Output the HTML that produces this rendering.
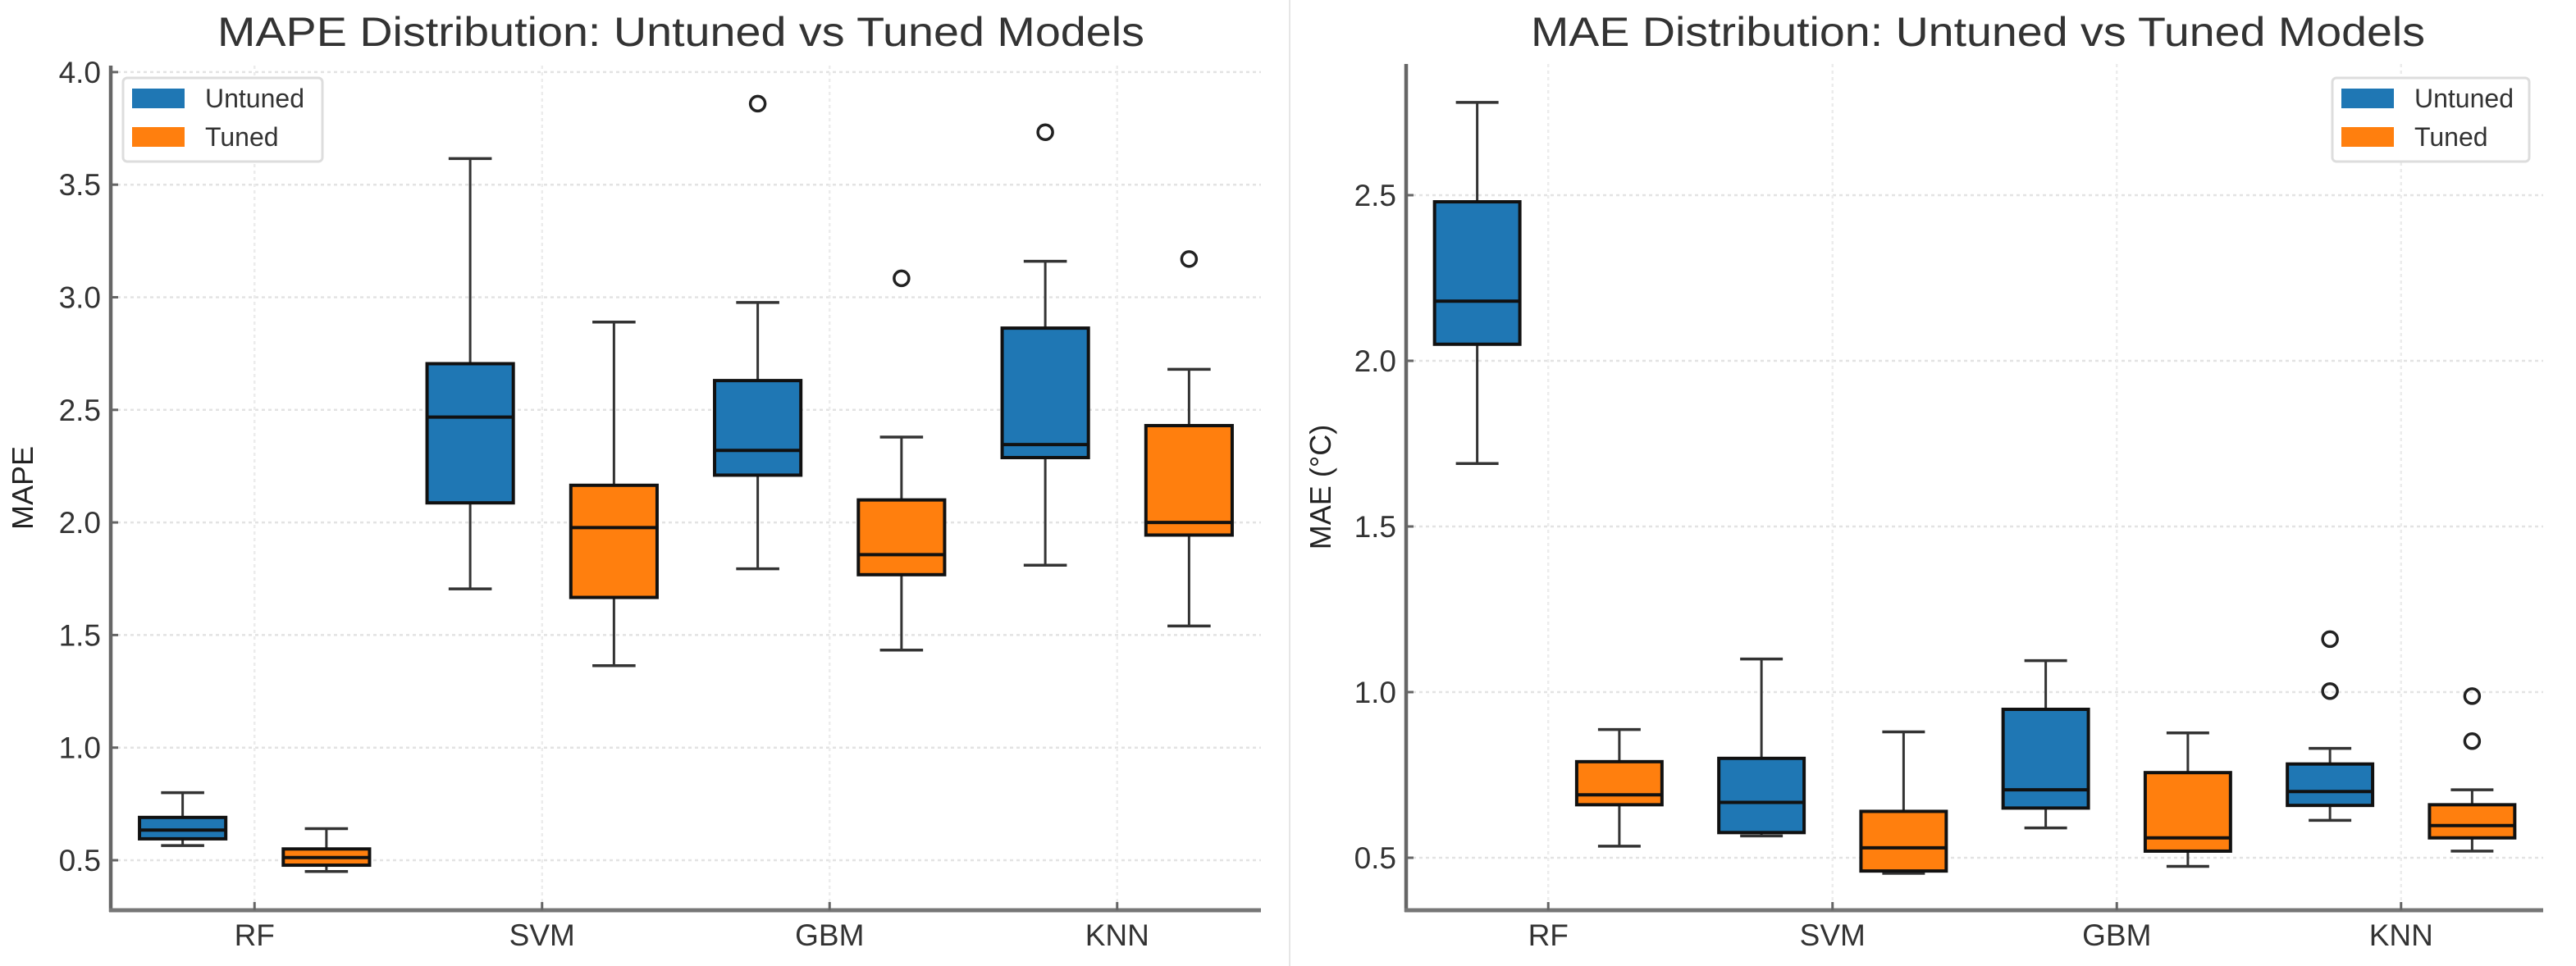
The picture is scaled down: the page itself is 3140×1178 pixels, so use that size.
<!DOCTYPE html>
<html><head><meta charset="utf-8"><style>
html,body{margin:0;padding:0;background:#fff;}
svg{display:block;font-family:"Liberation Sans","DejaVu Sans",sans-serif;}
</style></head><body>
<svg id="chart" width="3140" height="1178" viewBox="0 0 3140 1178" xmlns="http://www.w3.org/2000/svg">
<rect x="0" y="0" width="3140" height="1178" fill="#fff"/>
<line x1="1572" y1="0" x2="1572" y2="1178" stroke="#e6e6e6" stroke-width="2"/>
</svg>
<script>
const categories = ["RF","SVM","GBM","KNN"];
// MAPE panel: [lowWhisker, q1, median, q3, highWhisker]
const mapeUntuned = [[0.565,0.595,0.634,0.69,0.80],[1.705,2.087,2.468,2.705,3.616],[1.794,2.21,2.32,2.63,2.977],[1.81,2.288,2.346,2.863,3.16]];
const mapeTuned = [[0.45,0.478,0.512,0.55,0.64],[1.364,1.667,1.977,2.165,2.89],[1.433,1.768,1.857,2.10,2.379],[1.54,1.944,2.0,2.43,2.68]];
const mapeUntunedOutliers = [[],[],[3.86],[3.733]];
const mapeTunedOutliers = [[],[],[3.084],[3.17]];
const mapeTicks = [0.5,1.0,1.5,2.0,2.5,3.0,3.5,4.0];
// MAE panel
const maeUntuned = [[1.69,2.05,2.18,2.48,2.78],[0.566,0.576,0.667,0.80,1.10],[0.59,0.65,0.705,0.948,1.095],[0.613,0.658,0.70,0.783,0.83]];
const maeTuned = [[0.535,0.66,0.69,0.79,0.887],[0.453,0.46,0.53,0.64,0.88],[0.474,0.52,0.56,0.757,0.877],[0.52,0.56,0.597,0.66,0.705]];
const maeUntunedOutliers = [[],[],[],[1.16,1.003]];
const maeTunedOutliers = [[],[],[],[0.988,0.852]];
const maeTicks = [0.5,1.0,1.5,2.0,2.5];

const NS = "http://www.w3.org/2000/svg";
const svg = document.getElementById('chart');
function mk(tag, attrs, parent){
  const e = document.createElementNS(NS, tag);
  for (const k in attrs) e.setAttribute(k, attrs[k]);
  (parent||svg).appendChild(e);
  return e;
}
const BLUE = "#1f77b4", ORANGE = "#ff7f0e";

function drawPanel(p){
  const g = mk('g', {});
  
  
  const xS = v => p.x0 + (v - (-0.5)) / 4 * (p.x1 - p.x0);
  const yS = v => p.yRef + (p.vRef - v) * p.ppu;
  // grid
  p.ticks.forEach(t => {
    const gl = mk('line', {x1:p.x0, x2:p.x1, y1:yS(t), y2:yS(t), stroke:'#e3e3e3', 'stroke-width':2.5, 'stroke-dasharray':'4 4'}, g);
    
    
  });
  categories.forEach((c,i) => {
    const gl = mk('line', {x1:xS(i), x2:xS(i), y1:p.yTop, y2:p.yBot, stroke:'#ececec', 'stroke-width':2.5, 'stroke-dasharray':'4 4'}, g);
    
    
  });
  // boxes
  const step = (p.x1 - p.x0) / 4;
  const bw = step * 0.3, off = step * 0.25;
  const series = [[p.untuned, p.untunedOut, BLUE, -off, 'untuned'], [p.tuned, p.tunedOut, ORANGE, off, 'tuned']];
  series.forEach(([data, outs, col, o, sname]) => {
    data.forEach((d, i) => {
      const cx = xS(i) + o;
      const bg = mk('g', {}, g);
      
      
      mk('line', {x1:cx, x2:cx, y1:yS(d[0]), y2:yS(d[1]), stroke:'#333', 'stroke-width':3}, bg);
      mk('line', {x1:cx, x2:cx, y1:yS(d[3]), y2:yS(d[4]), stroke:'#333', 'stroke-width':3}, bg);
      mk('line', {x1:cx-bw/4, x2:cx+bw/4, y1:yS(d[0]), y2:yS(d[0]), stroke:'#333', 'stroke-width':3.5}, bg);
      mk('line', {x1:cx-bw/4, x2:cx+bw/4, y1:yS(d[4]), y2:yS(d[4]), stroke:'#333', 'stroke-width':3.5}, bg);
      mk('rect', {x:cx-bw/2, y:yS(d[3]), width:bw, height:Math.max(1, yS(d[1]) - yS(d[3])), fill:col, stroke:'#111', 'stroke-width':4}, bg);
      mk('line', {x1:cx-bw/2, x2:cx+bw/2, y1:yS(d[2]), y2:yS(d[2]), stroke:'#111', 'stroke-width':4}, bg);
      outs[i].forEach(v => {
        const c = mk('circle', {cx:cx, cy:yS(v), r:9, fill:'none', stroke:'#222', 'stroke-width':3.5}, g);
        
        
      });
    });
  });
  // spines
  const ys = mk('line', {x1:p.x0, x2:p.x0, y1:p.yTop, y2:p.yBot+2, stroke:'#666', 'stroke-width':4.5}, g);
  
  
  const xs = mk('line', {x1:p.x0-2, x2:p.x1, y1:p.yBot, y2:p.yBot, stroke:'#777', 'stroke-width':5}, g);
  
  
  // y ticks
  p.ticks.forEach(t => {
    mk('line', {x1:p.x0, x2:p.x0+9, y1:yS(t), y2:yS(t), stroke:'#666', 'stroke-width':3}, g);
    const tx = mk('text', {x:p.x0-12, y:yS(t)+13, 'text-anchor':'end', 'font-size':37, fill:'#333'}, g);
    tx.textContent = t.toFixed(1);
    
    
  });
  categories.forEach((c,i) => {
    mk('line', {x1:xS(i), x2:xS(i), y1:p.yBot, y2:p.yBot-10, stroke:'#666', 'stroke-width':3}, g);
    const tx = mk('text', {x:xS(i), y:p.yBot+43, 'text-anchor':'middle', 'font-size':37, fill:'#333'}, g);
    tx.textContent = c;
    
    
  });
  // title
  const ti = mk('text', {x:(p.x0+p.x1)/2 + p.tdx, y:56, 'text-anchor':'middle', 'font-size':50, fill:'#333', textLength:p.tlen, lengthAdjust:'spacingAndGlyphs'}, g);
  ti.textContent = p.title;
  
  
  // y label
  const yl = mk('text', {x:0, y:0, 'text-anchor':'middle', 'font-size':36, fill:'#222', transform:`translate(${p.ylx},${(p.yTop+p.yBot)/2}) rotate(-90)`}, g);
  yl.textContent = p.ylabel;
  
  
  // legend
  const lg = mk('g', {}, g);
  
  
  mk('rect', {x:p.lx, y:95, width:p.lw, height:102, rx:5, fill:'#fff', stroke:'#ddd', 'stroke-width':3}, lg);
  [['Untuned', BLUE, 108], ['Tuned', ORANGE, 155]].forEach(([lab, col, yy]) => {
    const e = mk('g', {}, lg);
    
    
    mk('rect', {x:p.lx+11, y:yy, width:64, height:24, fill:col}, e);
    const t = mk('text', {x:p.lx+100, y:yy+23, 'font-size':32, fill:'#333'}, e);
    t.textContent = lab;
  });
}

drawPanel({name:'mape-panel', x0:135, x1:1537, yTop:80, yBot:1110, vRef:0.5, yRef:1049, ppu:274.6,
  ticks:mapeTicks, untuned:mapeUntuned, tuned:mapeTuned, untunedOut:mapeUntunedOutliers, tunedOut:mapeTunedOutliers,
  title:'MAPE Distribution: Untuned vs Tuned Models', tlen:1130, tdx:-6, ylabel:'MAPE', ylx:40, lx:150, lw:243});
drawPanel({name:'mae-panel', x0:1714, x1:3100, yTop:78, yBot:1110, vRef:0.5, yRef:1046, ppu:404,
  ticks:maeTicks, untuned:maeUntuned, tuned:maeTuned, untunedOut:maeUntunedOutliers, tunedOut:maeTunedOutliers,
  title:'MAE Distribution: Untuned vs Tuned Models', tlen:1090, tdx:4, ylabel:'MAE (°C)', ylx:1622, lx:2843, lw:240});
</script>
</body></html>
